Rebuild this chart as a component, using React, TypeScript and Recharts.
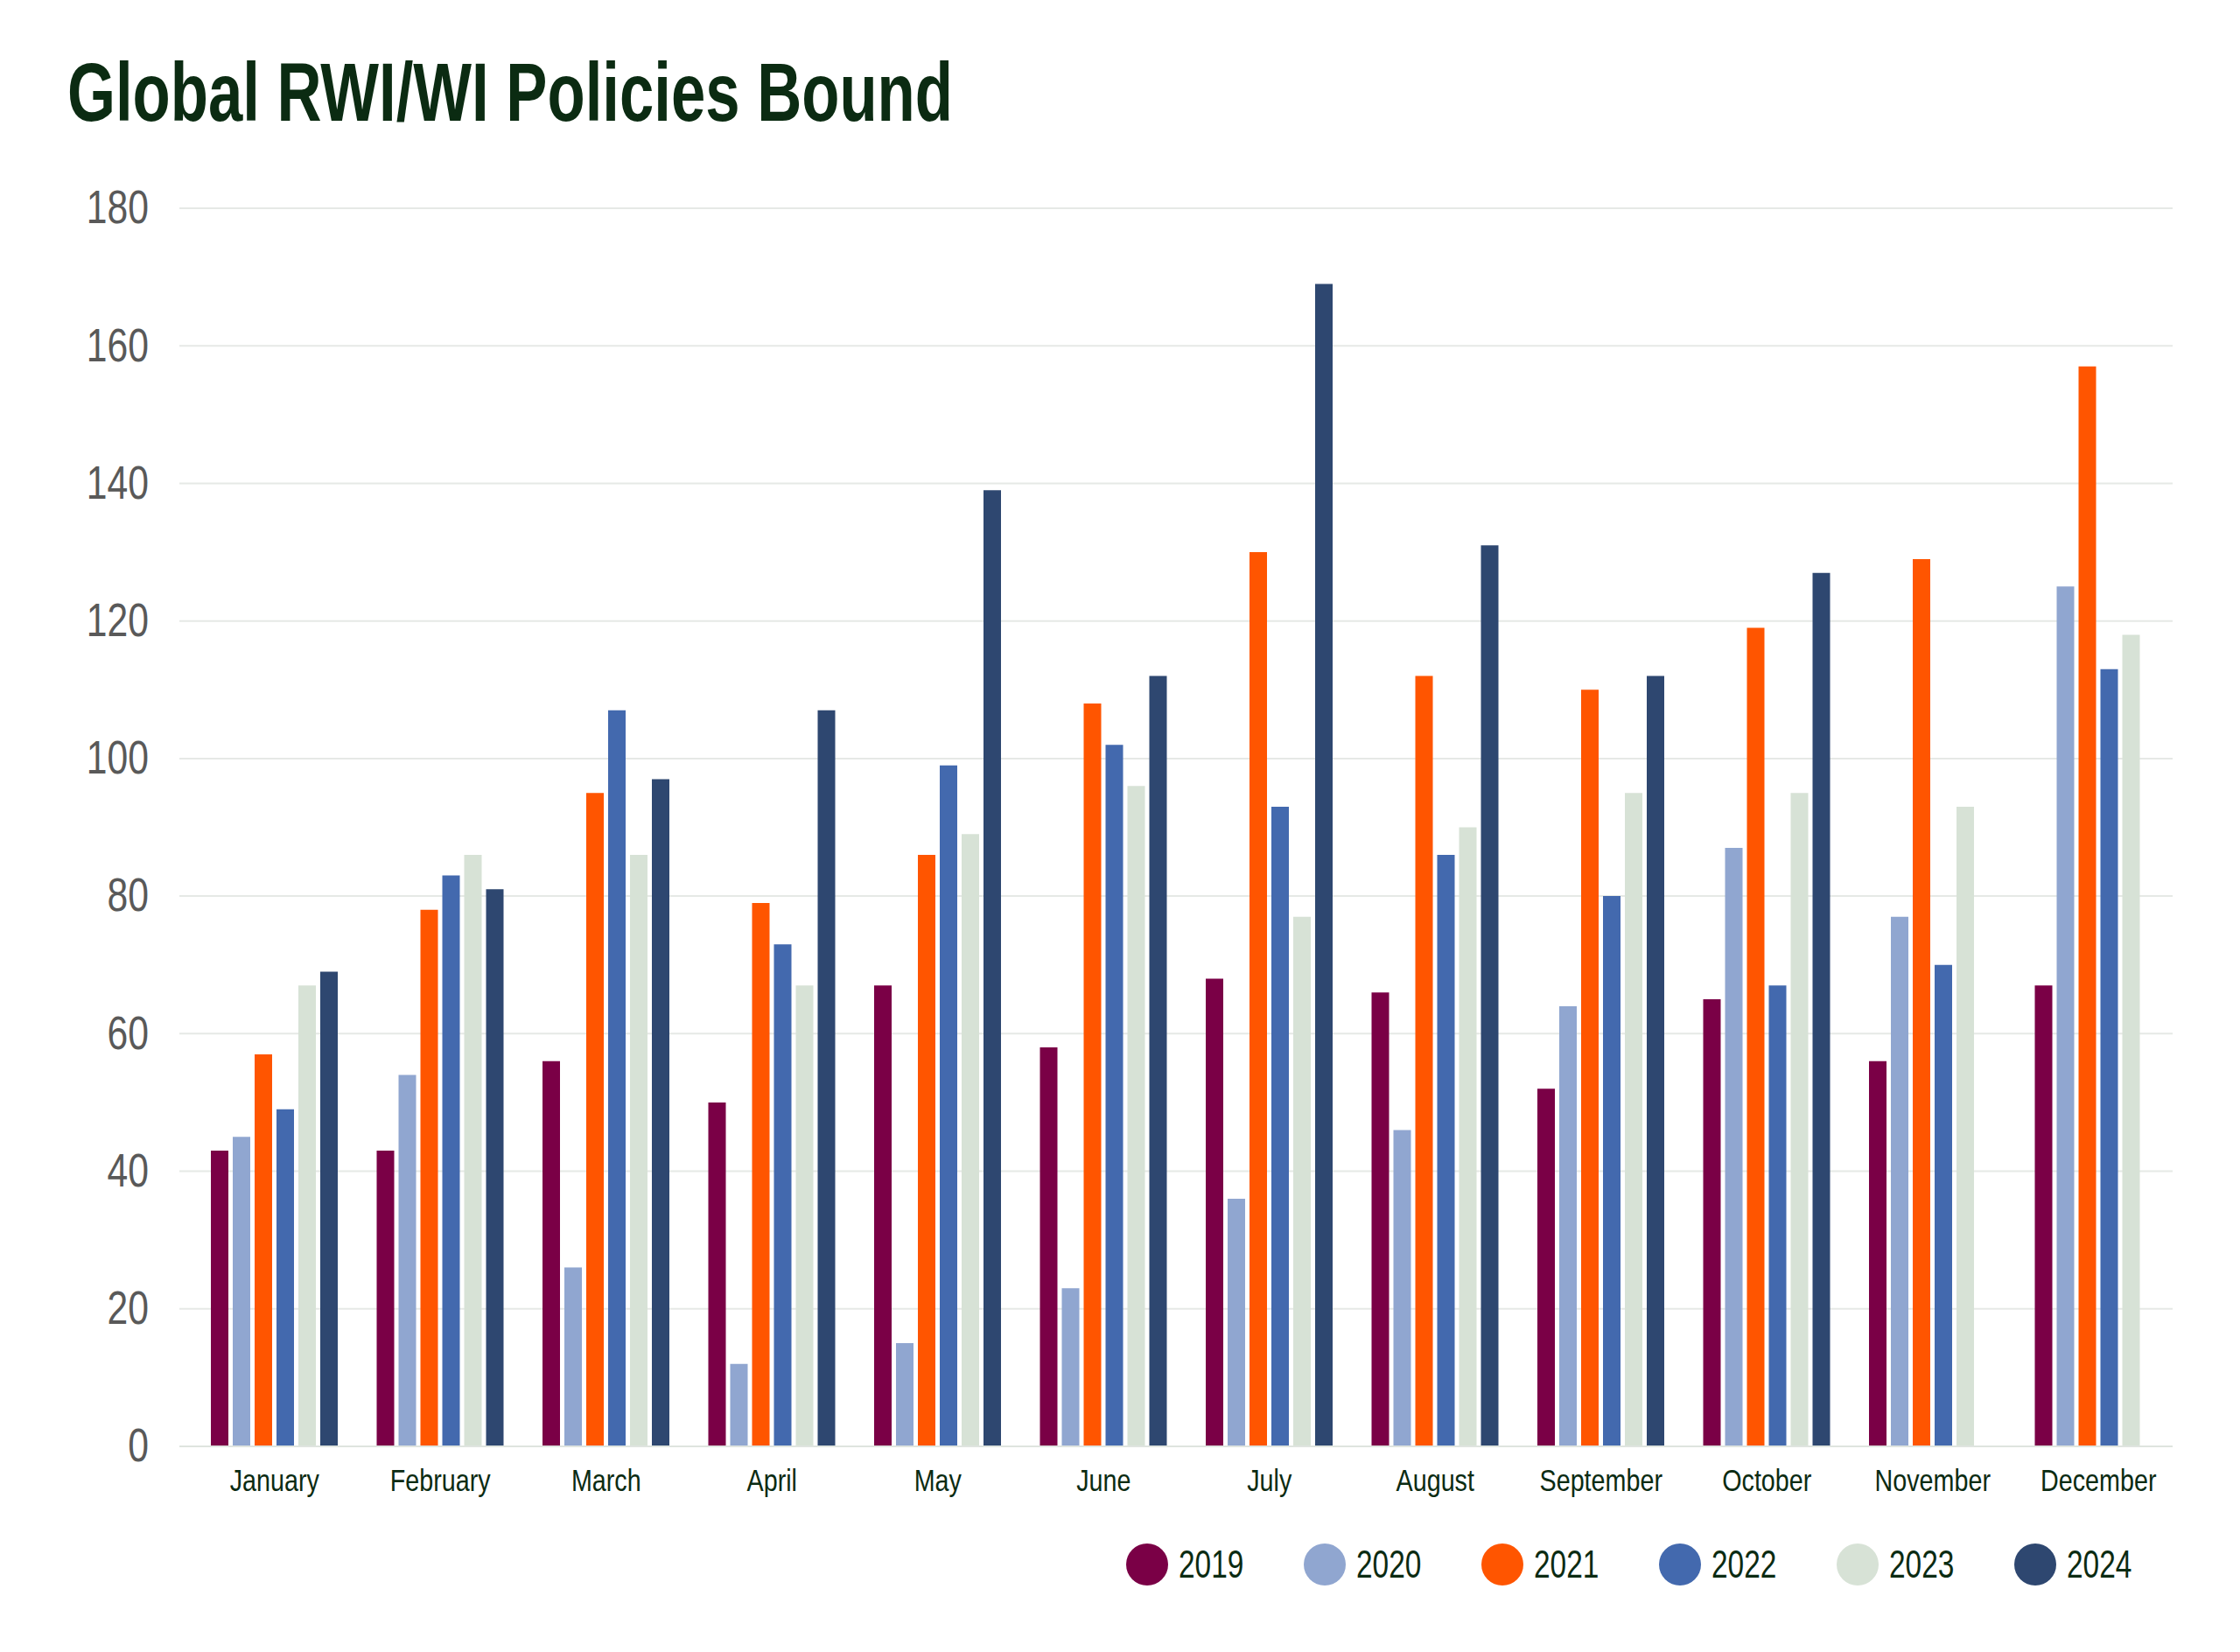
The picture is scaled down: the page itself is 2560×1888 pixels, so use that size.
import { BarChart, Bar, XAxis, YAxis, CartesianGrid } from 'recharts';

const months = [
  'January', 'February', 'March', 'April', 'May', 'June',
  'July', 'August', 'September', 'October', 'November', 'December',
];

const years = ['2019', '2020', '2021', '2022', '2023', '2024'];

const v2019 = [43, 43, 56, 50, 67, 58, 68, 66, 52, 65, 56, 67];
const v2020 = [45, 54, 26, 12, 15, 23, 36, 46, 64, 87, 77, 125];
const v2021 = [57, 78, 95, 79, 86, 108, 130, 112, 110, 119, 129, 157];
const v2022 = [49, 83, 107, 73, 99, 102, 93, 86, 80, 67, 70, 113];
const v2023 = [67, 86, 86, 67, 89, 96, 77, 90, 95, 95, 93, 118];
const v2024 = [69, 81, 97, 107, 139, 112, 169, 131, 112, 127, null, null];

const yTicks = [0, 20, 40, 60, 80, 100, 120, 140, 160, 180];

const colors = ['#7a0046', '#90a6d0', '#ff5500', '#4369ae', '#d7e2d6', '#2e4770'];

// no narrow font installed, so squeeze Liberation Sans horizontally
const FONT = "'Liberation Sans', Arial, sans-serif";
const DARK = '#0b2b12';

const seriesValues = [v2019, v2020, v2021, v2022, v2023, v2024];

const data = months.map((m, i) => {
  const row: Record<string, string | number | null> = { month: m };
  years.forEach((y, k) => { row[y] = seriesValues[k][i]; });
  return row;
});

function NarrowTick(props: any) {
  const { x, y, payload, textAnchor, fill, fontSize, squeeze, dy } = props;
  return (
    <text
      transform={`translate(${x},${y}) scale(${squeeze},1)`}
      textAnchor={textAnchor}
      fill={fill}
      fontSize={fontSize}
      fontFamily={FONT}
      dy={dy}
    >
      {payload.value}
    </text>
  );
}

export default function App() {
  return (
    <div style={{ position: 'absolute', left: 0, top: 0, width: 2560, height: 1888, background: '#fff', fontFamily: FONT }}>
      <div style={{
        position: 'absolute', left: 77, top: 59, fontSize: 94, lineHeight: '94px',
        fontWeight: 700, color: DARK, whiteSpace: 'nowrap',
        transform: 'scaleX(0.752)', transformOrigin: 'left top',
      }}>
        Global RWI/WI Policies Bound
      </div>

      <BarChart
        width={2560}
        height={1888}
        data={data}
        margin={{ top: 238, right: 77, bottom: 175, left: 55 }}
        barSize={20}
        barGap={5}
        style={{ position: 'absolute', left: 0, top: 0 }}
      >
        <CartesianGrid vertical={false} stroke="#e6e9e6" strokeWidth={2} />
        <XAxis
          dataKey="month"
          height={60}
          padding={{ left: 14, right: -10 }}
          axisLine={{ stroke: '#dfe4df', strokeWidth: 2 }}
          tickLine={false}
          tickSize={0}
          tickMargin={26}
          interval={0}
          tick={<NarrowTick fill={DARK} fontSize={35} squeeze={0.82} dy="0.71em" />}
        />
        <YAxis
          width={150}
          domain={[0, 180]}
          ticks={yTicks}
          axisLine={false}
          tickLine={false}
          tickSize={0}
          tickMargin={35}
          tick={<NarrowTick fill="#595959" fontSize={54} squeeze={0.79} dy="0.32em" />}
        />
        {years.map((y, k) => (
          <Bar key={y} dataKey={y} fill={colors[k]} isAnimationActive={false} />
        ))}
      </BarChart>

      <div style={{
        position: 'absolute', left: 1287, top: 1764, display: 'flex', alignItems: 'center', gap: 70,
      }}>
        {years.map((y, k) => (
          <div key={y} style={{ display: 'flex', alignItems: 'center' }}>
            <div style={{ width: 48, height: 48, borderRadius: 24, background: colors[k], marginRight: 12 }} />
            <span style={{ display: 'inline-block', width: 73, height: 48, overflow: 'visible' }}>
              <span style={{
                display: 'inline-block', fontSize: 44, color: DARK, lineHeight: '48px', whiteSpace: 'nowrap',
                transform: 'scaleX(0.76)', transformOrigin: 'left center',
              }}>
                {y}
              </span>
            </span>
          </div>
        ))}
      </div>
    </div>
  );
}
